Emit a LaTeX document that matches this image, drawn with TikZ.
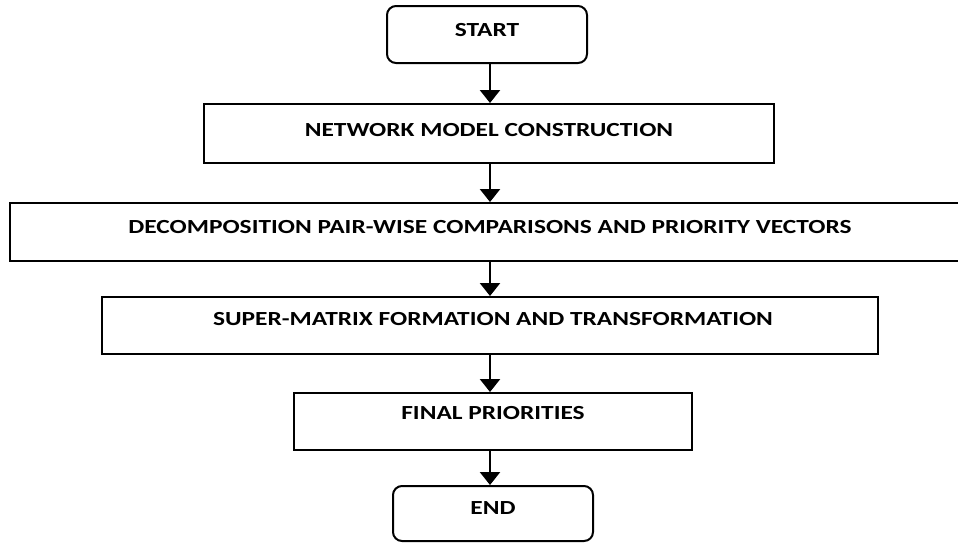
\documentclass[tikz,border=0pt]{standalone}
\usepackage{fontspec}
\setmainfont{Carlito}[FakeStretch=1.27]
\usetikzlibrary{arrows.meta}
\begin{document}
\begin{tikzpicture}[x=1pt,y=-1pt,
  box/.style={draw=black,line width=2pt,inner sep=0pt,anchor=base,
    font=\fontsize{20}{24}\selectfont\bfseries},
  rbox/.style={box,rounded corners=9pt},
  flow/.style={line width=2.5pt,-{Triangle[width=20pt,length=13pt]}}]
\useasboundingbox (0,0) rectangle (958,542);
\clip (0,0) rectangle (958,542);
\coordinate (ax) at (490,0);
\node[rbox,minimum width=200pt,text height=30.4pt,text depth=26.6pt] (start) at (487,36.4) {START};
\node[box,minimum width=570pt,text height=32.4pt,text depth=26.6pt] (net) at (489,136.4) {NETWORK MODEL CONSTRUCTION};
\node[box,minimum width=960pt,text height=30.4pt,text depth=27.6pt] (dec) at (490,233.4) {DECOMPOSITION PAIR-WISE COMPARISONS AND PRIORITY VECTORS};
\node[box,minimum width=776pt,text height=28pt,text depth=29pt] (sup) at (490,325) {\hspace*{6pt}SUPER-MATRIX FORMATION AND TRANSFORMATION};
\node[box,minimum width=398pt,text height=26.4pt,text depth=30.6pt] (fin) at (493,419.4) {FINAL PRIORITIES};
\node[rbox,minimum width=200pt,text height=28.4pt,text depth=26.6pt] (end) at (493,514.4) {END};
\draw[flow] (start.south -| ax) -- (net.north -| ax);
\draw[flow] (net.south -| ax) -- (dec.north -| ax);
\draw[flow] (dec.south -| ax) -- (sup.north -| ax);
\draw[flow] (sup.south -| ax) -- (fin.north -| ax);
\draw[flow] (fin.south -| ax) -- (end.north -| ax);
\end{tikzpicture}
\end{document}
